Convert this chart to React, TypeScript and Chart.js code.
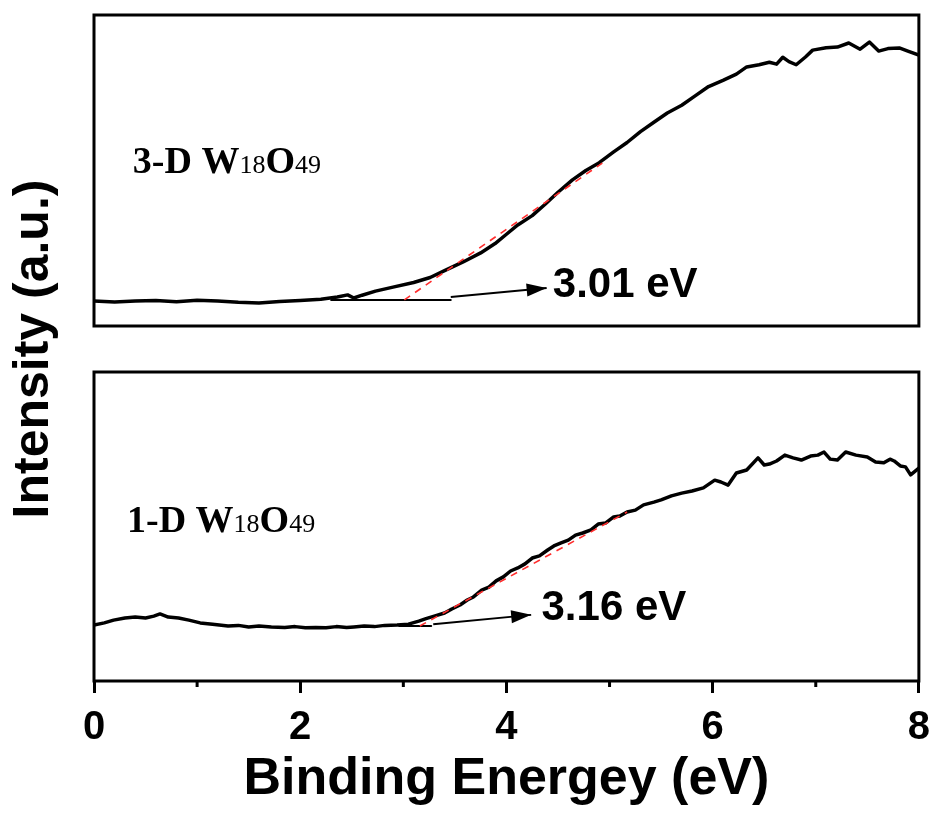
import React, { useEffect, useRef } from 'react';
import { Chart, registerables } from 'chart.js';

Chart.register(...registerables);

// ---------- data (binding energy in eV, intensity in a.u. per panel) ----------
const energyTop = [0, 0.2, 0.4, 0.6, 0.8, 1.0, 1.2, 1.4, 1.6, 1.8, 2.0, 2.2, 2.36, 2.46, 2.52, 2.6, 2.73, 2.9, 3.1, 3.26, 3.4, 3.58, 3.75, 3.89, 4.0, 4.11, 4.25, 4.37, 4.5, 4.64, 4.77, 4.9, 5.04, 5.17, 5.3, 5.43, 5.56, 5.7, 5.83, 5.96, 6.1, 6.23, 6.33, 6.45, 6.55, 6.62, 6.68, 6.74, 6.81, 6.9, 6.97, 7.1, 7.21, 7.32, 7.43, 7.52, 7.61, 7.7, 7.81, 7.9, 8.0];
const intensityTop = [8.0, 7.7, 8.0, 8.2, 7.8, 8.3, 8.0, 7.6, 7.4, 7.9, 8.2, 8.6, 9.3, 10.0, 9.0, 9.9, 11.2, 12.5, 14.0, 15.6, 17.8, 20.6, 23.5, 26.5, 29.5, 32.5, 35.5, 39.0, 43.0, 47.0, 50.0, 52.5, 56.0, 59.0, 62.5, 65.5, 68.5, 71.0, 74.0, 77.0, 79.0, 81.0, 83.3, 84.0, 84.8, 84.2, 86.4, 85.0, 84.0, 86.5, 88.7, 89.5, 89.7, 91.0, 89.0, 91.3, 88.4, 89.2, 89.4, 88.3, 87.1];

const energyBot = [0, 0.1, 0.19, 0.3, 0.4, 0.5, 0.58, 0.64, 0.72, 0.82, 0.92, 1.03, 1.15, 1.3, 1.4, 1.5, 1.6, 1.72, 1.85, 1.95, 2.05, 2.15, 2.25, 2.35, 2.45, 2.52, 2.62, 2.72, 2.82, 2.94, 3.05, 3.15, 3.22, 3.3, 3.4, 3.47, 3.55, 3.62, 3.68, 3.76, 3.83, 3.9, 3.97, 4.04, 4.11, 4.18, 4.25, 4.32, 4.4, 4.46, 4.53, 4.6, 4.67, 4.74, 4.82, 4.89, 4.96, 5.04, 5.1, 5.17, 5.25, 5.33, 5.43, 5.5, 5.6, 5.7, 5.8, 5.91, 6.02, 6.08, 6.15, 6.23, 6.33, 6.44, 6.5, 6.55, 6.62, 6.7, 6.78, 6.86, 6.95, 7.02, 7.08, 7.14, 7.21, 7.29, 7.39, 7.5, 7.58, 7.66, 7.72, 7.76, 7.82, 7.87, 7.92, 8.0];
const intensityBot = [18.1, 18.8, 19.7, 20.4, 20.7, 20.4, 21.0, 21.7, 20.7, 20.4, 19.7, 18.8, 18.4, 17.8, 18.0, 17.5, 17.8, 17.5, 17.3, 17.6, 17.2, 17.3, 17.2, 17.6, 17.3, 17.5, 17.8, 17.6, 18.0, 18.1, 18.4, 19.4, 20.2, 21.0, 22.0, 23.3, 24.6, 26.2, 27.2, 29.4, 30.4, 32.4, 33.7, 35.6, 36.6, 37.9, 39.8, 40.5, 42.4, 43.7, 44.7, 45.6, 47.2, 47.9, 48.9, 50.8, 51.1, 53.1, 53.4, 54.7, 55.3, 57.0, 57.9, 58.6, 59.9, 60.8, 61.5, 62.5, 65.0, 64.4, 63.4, 67.3, 68.3, 72.2, 69.9, 70.2, 71.2, 73.1, 72.2, 71.5, 72.8, 73.1, 74.1, 71.8, 71.5, 74.1, 73.1, 72.5, 70.9, 70.6, 71.8, 71.2, 69.6, 69.3, 66.7, 68.9];

// onset construction lines (eV, intensity)
const tangentTopE = [3.01, 4.93];
const tangentTopI = [8.4, 52.4];
const baselineTopE = [2.3, 3.46];
const baselineTopI = [8.4, 8.4];
const arrowTopE = [3.46, 4.39];
const arrowTopI = [9.3, 12.2];

const tangentBotE = [3.16, 5.17];
const tangentBotI = [17.8, 54.7];
const baselineBotE = [2.96, 3.27];
const baselineBotI = [17.8, 17.8];
const arrowBotE = [3.29, 4.24];
const arrowBotI = [18.4, 21.4];

const onsetLabels = ['3.01 eV', '3.16 eV'];
const onsetLabelE = [4.45, 4.34];
const onsetLabelI = [12.9, 23.6];

const sampleNames = ['3-D', '1-D'];
const sampleLabelE = [0.377, 0.32];
const sampleLabelI = [49.2, 48.2];

const xTickValues = [0, 1, 2, 3, 4, 5, 6, 7, 8];
const xTickLabels = ['0', '', '2', '', '4', '', '6', '', '8'];

const SANS = '"Liberation Sans", Arial, Helvetica, sans-serif';
const SERIF = '"Liberation Serif", "Times New Roman", serif';

const pts = (xs: number[], ys: number[]) => xs.map((x, i) => ({ x, y: ys[i] }));

const lineDs = (label: string, data: any[], axis: string, extra: any) => ({
  label,
  data,
  yAxisID: axis,
  borderColor: '#000',
  backgroundColor: '#000',
  borderWidth: 2,
  pointRadius: 0,
  pointHoverRadius: 0,
  tension: 0,
  fill: false,
  borderJoinStyle: 'round',
  borderCapStyle: 'round',
  ...extra,
});

const overlayPlugin = {
  id: 'overlay',
  afterDatasetsDraw(chart: any) {
    const { ctx, chartArea, scales } = chart;
    const xs = scales.x;
    ctx.save();

    // arrowheads at the end of arrow datasets
    chart.data.datasets.forEach((ds: any, i: number) => {
      if (!ds.isArrow) return;
      const meta = chart.getDatasetMeta(i);
      const pts = meta.data;
      const a = pts[pts.length - 2];
      const b = pts[pts.length - 1];
      const ang = Math.atan2(b.y - a.y, b.x - a.x);
      const len = 20;
      const hw = 6.5;
      ctx.fillStyle = '#000';
      ctx.beginPath();
      ctx.moveTo(b.x, b.y);
      ctx.lineTo(b.x - len * Math.cos(ang) + hw * Math.sin(ang), b.y - len * Math.sin(ang) - hw * Math.cos(ang));
      ctx.lineTo(b.x - len * Math.cos(ang) - hw * Math.sin(ang), b.y - len * Math.sin(ang) + hw * Math.cos(ang));
      ctx.closePath();
      ctx.fill();
    });

    // panel frames
    ctx.strokeStyle = '#000';
    ctx.lineWidth = 3;
    ['yTop', 'yBot'].forEach((id) => {
      const s = scales[id];
      ctx.strokeRect(chartArea.left, s.top, chartArea.right - chartArea.left, s.bottom - s.top);
    });

    // minor ticks
    xTickValues.forEach((v, i) => {
      if (xTickLabels[i] !== '') return;
      const px = xs.getPixelForValue(v);
      ctx.beginPath();
      ctx.moveTo(px, chartArea.bottom);
      ctx.lineTo(px, chartArea.bottom + 6);
      ctx.stroke();
    });

    // onset labels
    const axes = ['yTop', 'yBot'];
    ctx.fillStyle = '#000';
    ctx.textAlign = 'left';
    ctx.textBaseline = 'middle';
    ctx.font = `bold 42px ${SANS}`;
    onsetLabels.forEach((t, i) => {
      ctx.fillText(t, xs.getPixelForValue(onsetLabelE[i]), scales[axes[i]].getPixelForValue(onsetLabelI[i]));
    });

    // sample labels: "3-D W18O49"
    ctx.textBaseline = 'alphabetic';
    sampleNames.forEach((n, i) => {
      let px = xs.getPixelForValue(sampleLabelE[i]);
      const py = scales[axes[i]].getPixelForValue(sampleLabelI[i]);
      const parts: [string, string][] = [
        [n + ' W', `bold 38px ${SERIF}`],
        ['18', `26px ${SERIF}`],
        ['O', `bold 38px ${SERIF}`],
        ['49', `26px ${SERIF}`],
      ];
      parts.forEach(([t, f]) => {
        ctx.font = f;
        ctx.fillText(t, px, py);
        px += ctx.measureText(t).width;
      });
    });

    ctx.restore();
  },
};

const hiddenY = (weight: number) => ({
  type: 'linear',
  position: 'left',
  stack: 'panels',
  stackWeight: weight,
  min: 0,
  max: 100,
  ticks: { display: false },
  grid: { display: false, drawTicks: false },
  border: { display: false },
  afterFit: (s: any) => { s.width = 94; },
});

export default function App() {
  const ref = useRef<HTMLCanvasElement>(null);

  useEffect(() => {
    const datasets = [
      lineDs('tangent 3-D', pts(tangentTopE, tangentTopI), 'yTop', { borderColor: '#ff2d2d', borderWidth: 1.6, borderDash: [7, 6], borderCapStyle: 'butt', order: 0 }),
      lineDs('tangent 1-D', pts(tangentBotE, tangentBotI), 'yBot', { borderColor: '#ff2d2d', borderWidth: 1.6, borderDash: [7, 6], borderCapStyle: 'butt', order: 0 }),
      lineDs('3-D W18O49', pts(energyTop, intensityTop), 'yTop', { borderWidth: 3.5, order: 1 }),
      lineDs('1-D W18O49', pts(energyBot, intensityBot), 'yBot', { borderWidth: 3.5, order: 1 }),
      lineDs('baseline 3-D', pts(baselineTopE, baselineTopI), 'yTop', { order: 2 }),
      lineDs('baseline 1-D', pts(baselineBotE, baselineBotI), 'yBot', { order: 2 }),
      lineDs('arrow 3-D', pts(arrowTopE, arrowTopI), 'yTop', { order: 2, isArrow: true, borderCapStyle: 'butt' }),
      lineDs('arrow 1-D', pts(arrowBotE, arrowBotI), 'yBot', { order: 2, isArrow: true, borderCapStyle: 'butt' }),
    ];

    const chart = new Chart(ref.current as HTMLCanvasElement, {
      type: 'line',
      data: { datasets },
      options: {
        animation: false,
        responsive: false,
        devicePixelRatio: 1,
        parsing: true,
        layout: { padding: { left: 0, right: 18, top: 15, bottom: 0 } },
        plugins: { legend: { display: false }, tooltip: { enabled: false }, title: { display: false } },
        events: [],
        scales: {
          x: {
            type: 'linear',
            position: 'bottom',
            min: 0,
            max: 8,
            afterBuildTicks: (s: any) => { s.ticks = xTickValues.map((v) => ({ value: v })); },
            afterFit: (s: any) => { s.height = 133; },
            ticks: {
              autoSkip: false,
              maxRotation: 0,
              padding: 11,
              color: '#000',
              font: { family: SANS, weight: 'bold', size: 40 },
              callback: (_v: any, i: number) => xTickLabels[i],
            },
            grid: {
              display: true,
              drawOnChartArea: false,
              drawTicks: true,
              tickLength: 12,
              tickWidth: 3,
              tickColor: (c: any) => (c.index !== undefined && xTickLabels[c.index] !== '' ? '#000' : 'rgba(0,0,0,0)'),
            },
            border: { display: false },
            title: {
              display: true,
              text: 'Binding Energey (eV)',
              color: '#000',
              font: { family: SANS, weight: 'bold', size: 52 },
              padding: { top: 0, bottom: 3 },
            },
          },
          yBot: hiddenY(309),
          yGap: {
            ...hiddenY(46),
            title: {
              display: true,
              text: 'Intensity (a.u.)',
              color: '#000',
              font: { family: SANS, weight: 'bold', size: 50, lineHeight: 1 },
              padding: { top: 9, bottom: 35 },
            },
          },
          yTop: hiddenY(311),
        },
      } as any,
      plugins: [overlayPlugin],
    } as any);

    return () => chart.destroy();
  }, []);

  return (
    <div style={{ position: 'fixed', left: 0, top: 0, width: 941, height: 814, background: '#fff' }}>
      <canvas ref={ref} width={941} height={814} style={{ display: 'block', width: 941, height: 814 }} />
    </div>
  );
}
